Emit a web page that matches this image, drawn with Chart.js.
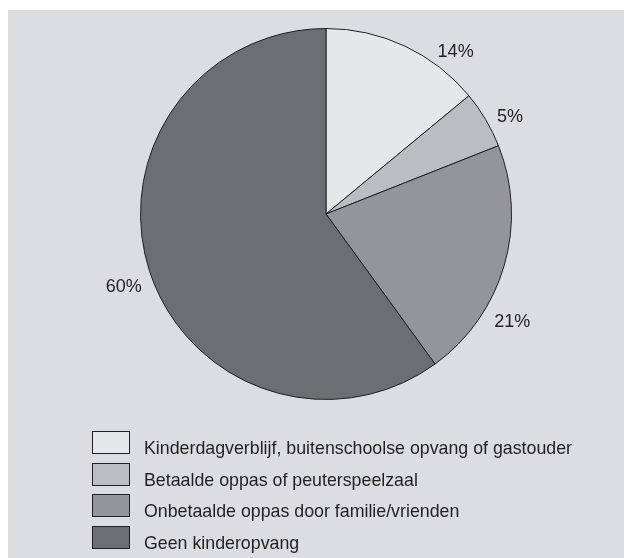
<!DOCTYPE html>
<html>
<head>
<meta charset="utf-8">
<script src="https://cdn.jsdelivr.net/npm/chart.js@4.4.1/dist/chart.umd.min.js"></script>
<style>
  html, body { margin: 0; padding: 0; background: #fff; }
  body { width: 624px; height: 558px; position: relative; overflow: hidden; font-family: "Liberation Sans", Arial, sans-serif; }
  .panel { position: absolute; left: 8px; top: 10px; right: 0; bottom: 0; background: #dcdde0; }
  #chart { position: absolute; left: 0; top: 0; }
  #legend { position: absolute; left: 92px; top: 431px; margin: 0; padding: 0; list-style: none; }
  #legend li { display: flex; align-items: flex-start; height: 31.7px; }
  #legend .box { width: 38px; height: 23px; box-sizing: border-box; border: 1px solid #231f20; flex: none; }
  #legend .txt { margin-left: 14px; position: relative; top: 8px; font-size: 17.8px; line-height: 18px; color: #231f20; white-space: nowrap; }
</style>
</head>
<body>
<div class="panel"></div>
<canvas id="chart" width="624" height="558"></canvas>
<ul id="legend"></ul>
<script>
// data
const categories = [
  'Kinderdagverblijf, buitenschoolse opvang of gastouder',
  'Betaalde oppas of peuterspeelzaal',
  'Onbetaalde oppas door familie/vrienden',
  'Geen kinderopvang'
]
const shares = [14, 5, 21, 60]
const colors = ['#e6e7e9', '#bcbdc0', '#939598', '#6d6e71']

// where each percentage sits: angle shift (deg) from slice middle, distance as factor of radius
const labelShift = [13.4, 2.9, 13.8, -1.9]
const labelDist = [1.12, 1.12, 1.16, 1.16]

const pctLabels = {
  id: 'pctLabels',
  afterDatasetsDraw(chart) {
    const ctx = chart.ctx
    const meta = chart.getDatasetMeta(0)
    ctx.save()
    ctx.font = '18px "Liberation Sans", Arial, sans-serif'
    ctx.fillStyle = '#231f20'
    ctx.textAlign = 'center'
    ctx.textBaseline = 'middle'
    meta.data.forEach((arc, i) => {
      const { x, y, startAngle, endAngle, outerRadius } = arc.getProps(['x', 'y', 'startAngle', 'endAngle', 'outerRadius'], true)
      const a = (startAngle + endAngle) / 2 + labelShift[i] * Math.PI / 180
      const d = outerRadius * labelDist[i]
      ctx.fillText(shares[i] + '%', x + Math.cos(a) * d, y + Math.sin(a) * d)
    })
    ctx.restore()
  }
}

const chart = new Chart(document.getElementById('chart'), {
  type: 'pie',
  data: {
    labels: categories,
    datasets: [{
      data: shares,
      backgroundColor: colors,
      borderColor: '#231f20',
      borderWidth: 1
    }]
  },
  options: {
    responsive: false,
    animation: false,
    layout: { padding: { left: 140, right: 112, top: 28, bottom: 158 } },
    plugins: {
      legend: { display: false },
      tooltip: { enabled: false }
    }
  },
  plugins: [pctLabels]
})

// legend built from the chart data
const legendEl = document.getElementById('legend')
chart.data.labels.forEach((label, i) => {
  const li = document.createElement('li')
  const box = document.createElement('span')
  box.className = 'box'
  box.style.background = chart.data.datasets[0].backgroundColor[i]
  const txt = document.createElement('span')
  txt.className = 'txt'
  txt.textContent = label
  li.appendChild(box)
  li.appendChild(txt)
  legendEl.appendChild(li)
})
</script>
</body>
</html>
